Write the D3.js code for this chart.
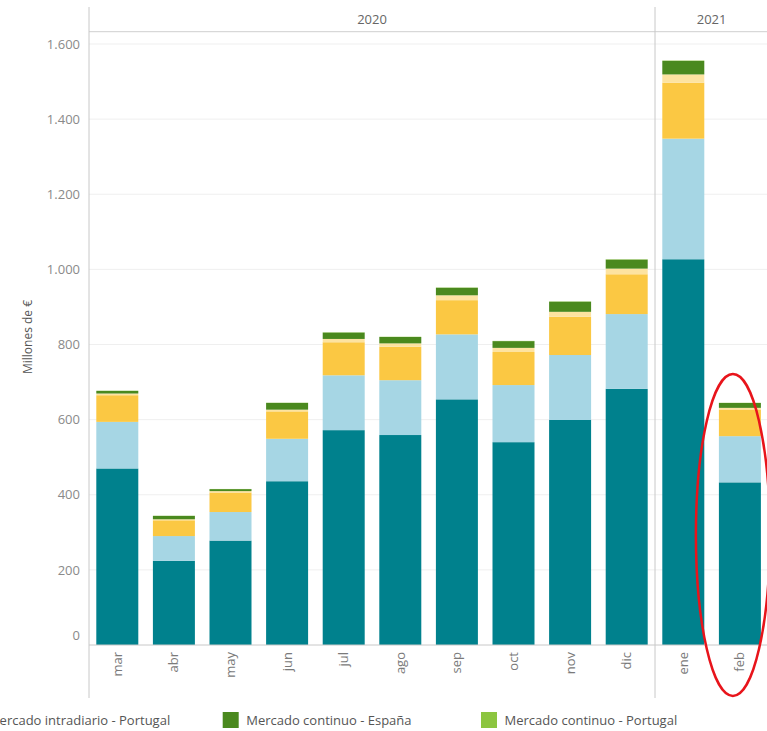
<!DOCTYPE html>
<html>
<head>
<meta charset="utf-8">
<script src="https://cdn.jsdelivr.net/npm/d3@7"></script>
<style>
  html, body { margin: 0; padding: 0; background: #fff; overflow: hidden; }
  svg { display: block; font-family: "Open Sans", "Noto Sans", sans-serif; }
</style>
</head>
<body>
<svg id="chart" width="767" height="731"></svg>
<script>
// ---- data ----
const months = ["mar","abr","may","jun","jul","ago","sep","oct","nov","dic","ene","feb"];
const years  = ["2020","2020","2020","2020","2020","2020","2020","2020","2020","2020","2021","2021"];
const yearLabels = ["2020","2021"];
const seriesNames = [
  "Mercado diario - España",
  "Mercado diario - Portugal",
  "Mercado intradiario - España",
  "Mercado intradiario - Portugal",
  "Mercado continuo - España",
  "Mercado continuo - Portugal"
];
const diarioEspana       = [470, 224, 278, 436, 572, 559, 654, 540, 599, 682, 1027, 433];
const diarioPortugal     = [124,  66,  76, 113, 146, 146, 173, 152, 173, 199,  321, 123];
const intradiarioEspana  = [ 71,  42,  52,  73,  88,  89,  91,  88, 102, 106,  149,  71];
const intradiarioPortugal= [4.5, 2.7, 3.7, 4.5, 8.8,   9,  13,  11,  13,  15,   22, 4.3];
const continuoEspana     = [  7,   9, 5.3,  18,  17,  17,  20,  18,  27,  24,   36,  13];
const continuoPortugal   = [0.5, 0.4, 0.4, 0.5, 0.6, 0.6, 0.7, 0.6, 0.7, 0.8,  1.0, 0.5];
const yTicks = [0, 200, 400, 600, 800, 1000, 1200, 1400, 1600];
const highlightMonth = "feb";
const colors = ["#00818d", "#a6d6e4", "#fbc843", "#fde3a0", "#4a891e", "#8cc540"];

// ---- build table ----
const seriesArrays = [diarioEspana, diarioPortugal, intradiarioEspana, intradiarioPortugal, continuoEspana, continuoPortugal];
const table = months.map((m, i) => {
  const row = { month: m, year: years[i] };
  seriesNames.forEach((s, j) => row[s] = seriesArrays[j][i]);
  return row;
});
const stacked = d3.stack().keys(seriesNames)(table);

const svg = d3.select("#chart");
const left = 89, paneTop = 7, headerLine = 31.7, baseY = 645, axisBottom = 698;
const step = 56.6;

const x = d3.scaleBand()
  .domain(months)
  .range([left, left + step * months.length])
  .paddingInner(0.258)
  .paddingOuter(0.129);

const y = d3.scaleLinear().domain([0, 1600]).range([baseY, 44]);

const fmt = d3.formatLocale({ decimal: ",", thousands: ".", grouping: [3], currency: ["", "€"] }).format(",d");

// gridlines
svg.append("g")
  .selectAll("line")
  .data(yTicks.filter(d => d > 0))
  .join("line")
  .attr("x1", left).attr("x2", 767)
  .attr("y1", d => y(d)).attr("y2", d => y(d))
  .attr("stroke", "#efefef").attr("stroke-width", 1);

// header line
svg.append("line")
  .attr("x1", left).attr("x2", 767)
  .attr("y1", headerLine).attr("y2", headerLine)
  .attr("stroke", "#cfcfcf").attr("stroke-width", 1);

// year headers & dividers
const boundary = m => x(m) - (x.step() - x.bandwidth()) / 2;
yearLabels.forEach(yr => {
  const ms = months.filter((m, i) => years[i] === yr);
  const x0 = boundary(ms[0]);
  const x1 = boundary(ms[ms.length - 1]) + x.step();
  svg.append("text")
    .attr("x", (x0 + x1) / 2).attr("y", 24)
    .attr("text-anchor", "middle")
    .attr("font-size", 13).attr("fill", "#666")
    .text(yr);
});
[boundary(months[0]), boundary("ene")].forEach(xx => {
  svg.append("line")
    .attr("x1", xx).attr("x2", xx)
    .attr("y1", paneTop).attr("y2", axisBottom)
    .attr("stroke", "#c8c8c8").attr("stroke-width", 1);
});

// bars
svg.append("g")
  .selectAll("g")
  .data(stacked)
  .join("g")
  .attr("fill", (d, i) => colors[i])
  .selectAll("rect")
  .data(d => d)
  .join("rect")
  .attr("x", d => x(d.data.month))
  .attr("width", x.bandwidth())
  .attr("y", d => y(d[1]))
  .attr("height", d => Math.max(0, y(d[0]) - y(d[1])));

// baseline
svg.append("line")
  .attr("x1", left).attr("x2", 767)
  .attr("y1", baseY).attr("y2", baseY)
  .attr("stroke", "#c8c8c8").attr("stroke-width", 1);

// y axis labels
const yAxis = d3.axisLeft(y).tickValues(yTicks).tickFormat(fmt).tickSize(0).tickPadding(9);
const gy = svg.append("g").attr("transform", `translate(${left},0)`).call(yAxis);
gy.select(".domain").remove();
gy.selectAll("text")
  .attr("font-family", "'Open Sans', sans-serif")
  .attr("font-size", 13).attr("fill", "#8a8a8a")
  .attr("dy", d => d === 0 ? "-0.45em" : "0.32em");

// y axis title
svg.append("text")
  .attr("transform", "translate(32,337) rotate(-90)")
  .attr("text-anchor", "middle")
  .attr("font-size", 12).attr("fill", "#555")
  .text("Millones de €");

// x axis labels
const xAxis = d3.axisBottom(x).tickSize(0).tickPadding(0);
const gx = svg.append("g").attr("transform", `translate(0,${baseY})`).call(xAxis);
gx.select(".domain").remove();
gx.selectAll("text")
  .attr("font-family", "'Open Sans', sans-serif")
  .attr("font-size", 13).attr("fill", "#7a7a7a")
  .attr("text-anchor", "end")
  .attr("transform", "translate(0,7) rotate(-90)")
  .attr("x", 0).attr("y", 0).attr("dy", "0.35em");

// red highlight ellipse around the last bar
const hx = x(highlightMonth) + x.bandwidth() / 2;
svg.append("ellipse")
  .attr("cx", hx - 7).attr("cy", 535)
  .attr("rx", 37).attr("ry", 161)
  .attr("fill", "none")
  .attr("stroke", "#e8141b").attr("stroke-width", 2.5);

// legend (only the right part of it fits in the window)
const legendSpacing = 258.3;
const visible = seriesNames.map((s, i) => ({ s, i })).slice(3);
const lg = svg.append("g").selectAll("g")
  .data(visible)
  .join("g")
  .attr("transform", d => `translate(${222.7 + (d.i - 4) * legendSpacing},712)`);
lg.append("rect").attr("width", 16).attr("height", 16).attr("fill", d => colors[d.i]);
lg.append("text")
  .attr("x", 23.5).attr("y", 13)
  .attr("font-size", 13).attr("fill", "#555")
  .text(d => d.s);
</script>
</body>
</html>
